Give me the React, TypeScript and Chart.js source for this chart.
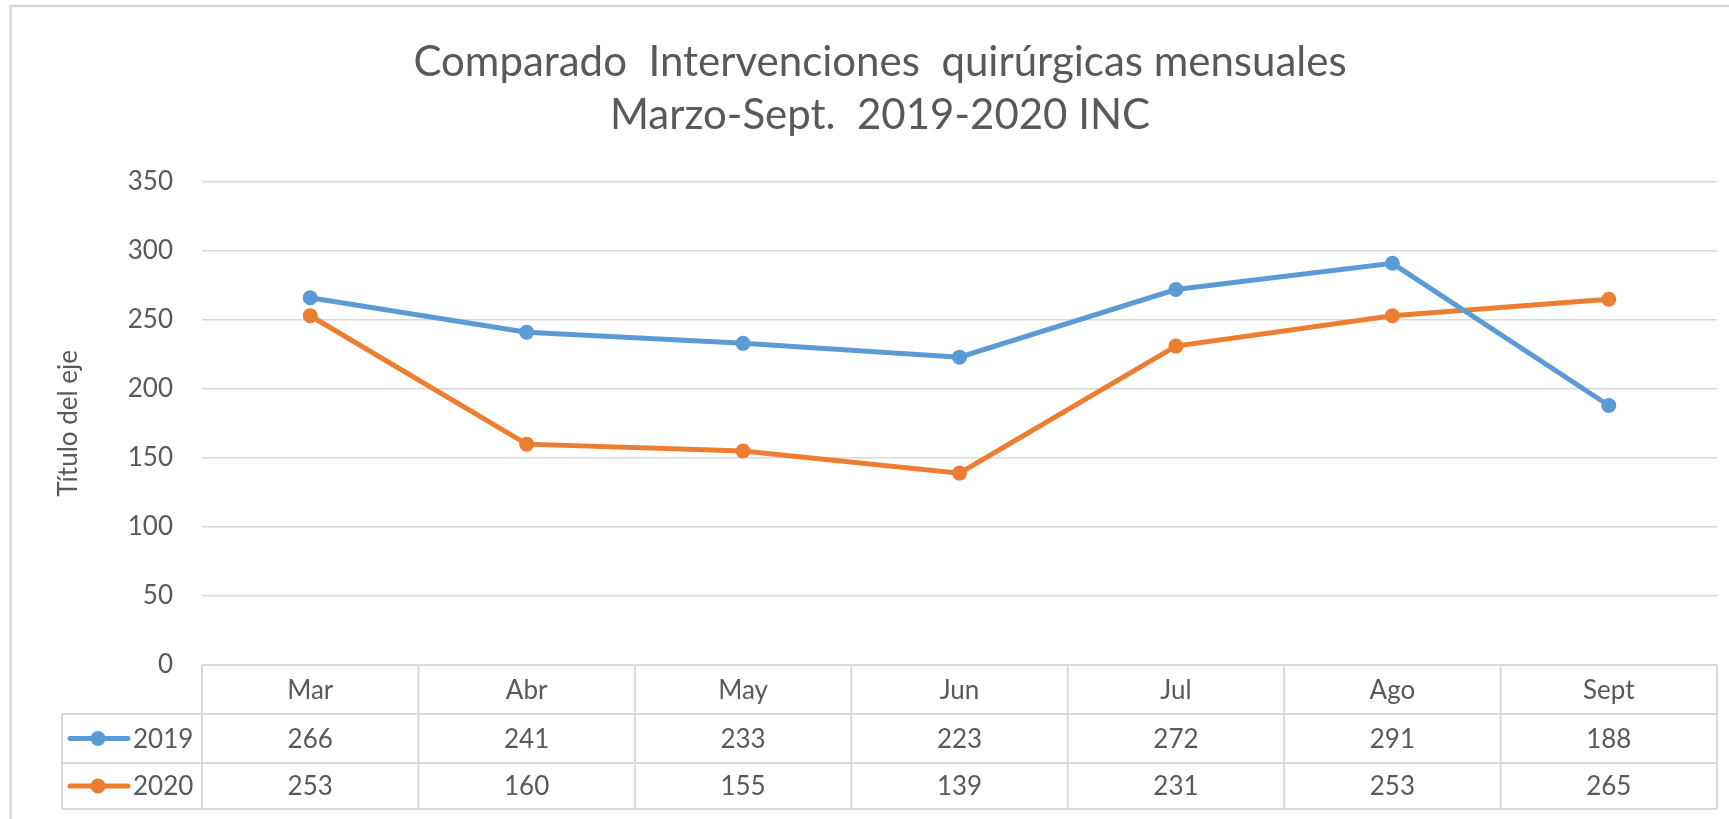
import React, { useEffect, useRef } from "react";
import { Chart, registerables } from "chart.js";

Chart.register(...registerables);

const months = ["Mar", "Abr", "May", "Jun", "Jul", "Ago", "Sept"];
const seriesNames = ["2019", "2020"];
const values2019 = [266, 241, 233, 223, 272, 291, 188];
const values2020 = [253, 160, 155, 139, 231, 253, 265];
const seriesColors = ["#5b9bd5", "#ed7d31"];
const titleLines = ["Comparado  Intervenciones  quirúrgicas mensuales", "Marzo-Sept.  2019-2020 INC"];
const yAxisTitle = "Título del eje";
const yMin = 0;
const yMax = 350;
const yStep = 50;

const W = 1760;
const H = 830;
const TEXT = "#595959";
const LINE = "#d9d9d9";
const FONT = "Lato";

const framePlugin = {
  id: "frame",
  beforeDraw(chart: any) {
    const ctx = chart.ctx;
    ctx.save();
    ctx.fillStyle = "#ffffff";
    ctx.fillRect(0, 0, chart.width, chart.height);
    ctx.strokeStyle = LINE;
    ctx.lineWidth = 2.5;
    ctx.strokeRect(10.5, 6, 1740, 816);
    ctx.restore();
  },
};

const tablePlugin = {
  id: "dataTable",
  afterDraw(chart: any) {
    const ctx = chart.ctx;
    const { left, right, bottom } = chart.chartArea;
    const xs = chart.scales.x;
    const n = months.length;
    const cw = (right - left) / n;
    const r0 = bottom;
    const r1 = r0 + 49;
    const r2 = r1 + 49;
    const r3 = r2 + 46;
    const legL = 62;
    ctx.save();
    ctx.strokeStyle = LINE;
    ctx.lineWidth = 2;
    ctx.beginPath();
    ctx.moveTo(left, r0);
    ctx.lineTo(right, r0);
    [r1, r2, r3].forEach((y) => {
      ctx.moveTo(legL, y);
      ctx.lineTo(right, y);
    });
    ctx.moveTo(legL, r1);
    ctx.lineTo(legL, r3);
    for (let i = 0; i <= n; i++) {
      const x = left + i * cw;
      ctx.moveTo(x, r0);
      ctx.lineTo(x, r3);
    }
    ctx.stroke();

    ctx.fillStyle = TEXT;
    ctx.font = `26px ${FONT}`;
    ctx.textAlign = "center";
    ctx.textBaseline = "middle";
    const rows = [values2019, values2020];
    months.forEach((m, i) => {
      const cx = xs.getPixelForValue(i);
      ctx.fillText(m, cx, (r0 + r1) / 2 + 1);
      ctx.fillText(String(rows[0][i]), cx, (r1 + r2) / 2 + 1);
      ctx.fillText(String(rows[1][i]), cx, (r2 + r3) / 2 + 1);
    });

    const rowMids = [(r1 + r2) / 2, (r2 + r3) / 2];
    seriesNames.forEach((name, k) => {
      const y = rowMids[k];
      ctx.strokeStyle = seriesColors[k];
      ctx.lineWidth = 5;
      ctx.lineCap = "round";
      ctx.beginPath();
      ctx.moveTo(70, y);
      ctx.lineTo(128, y);
      ctx.stroke();
      ctx.fillStyle = seriesColors[k];
      ctx.beginPath();
      ctx.arc(98, y, 7.5, 0, Math.PI * 2);
      ctx.fill();
      ctx.fillStyle = TEXT;
      ctx.textAlign = "left";
      ctx.fillText(name, 133, y + 1);
    });
    ctx.restore();
  },
};

export default function App() {
  const ref = useRef<HTMLCanvasElement>(null);

  useEffect(() => {
    Chart.defaults.font.family = FONT;
    const chart = new Chart(ref.current as HTMLCanvasElement, {
      type: "line",
      data: {
        labels: months,
        datasets: [
          {
            label: seriesNames[0],
            data: values2019,
            borderColor: seriesColors[0],
            backgroundColor: seriesColors[0],
            borderWidth: 5,
            pointRadius: 7.5,
            pointBorderWidth: 0,
            tension: 0,
          },
          {
            label: seriesNames[1],
            data: values2020,
            borderColor: seriesColors[1],
            backgroundColor: seriesColors[1],
            borderWidth: 5,
            pointRadius: 7.5,
            pointBorderWidth: 0,
            tension: 0,
          },
        ],
      },
      options: {
        responsive: false,
        animation: false,
        layout: { padding: { left: 43, right: 43, top: 0, bottom: H - 665 } },
        scales: {
          x: {
            type: "category",
            display: false,
            offset: true,
          },
          y: {
            min: yMin,
            max: yMax,
            ticks: {
              stepSize: yStep,
              color: TEXT,
              font: { family: FONT, size: 26 },
              padding: 29,
            },
            grid: { color: LINE, lineWidth: 1.5, drawTicks: false },
            border: { display: false },
            title: {
              display: true,
              text: yAxisTitle,
              color: TEXT,
              font: { family: FONT, size: 26 },
              padding: { top: 10, bottom: 0 },
            },
            afterFit(scale: any) {
              scale.width = 159;
            },
          },
        },
        plugins: {
          legend: { display: false },
          tooltip: { enabled: false },
          title: {
            display: true,
            text: titleLines,
            color: TEXT,
            font: { family: FONT, size: 42, weight: "normal", lineHeight: 1.26 },
            padding: { top: 36, bottom: 40 },
          },
        },
      },
      plugins: [framePlugin, tablePlugin],
    });
    return () => chart.destroy();
  }, []);

  return (
    <div
      style={{
        position: "fixed",
        left: 0,
        top: 0,
        width: 1729,
        height: 819,
        overflow: "hidden",
        background: "#fff",
      }}
    >
      <canvas ref={ref} width={W} height={H} style={{ width: W, height: H, display: "block" }} />
    </div>
  );
}
